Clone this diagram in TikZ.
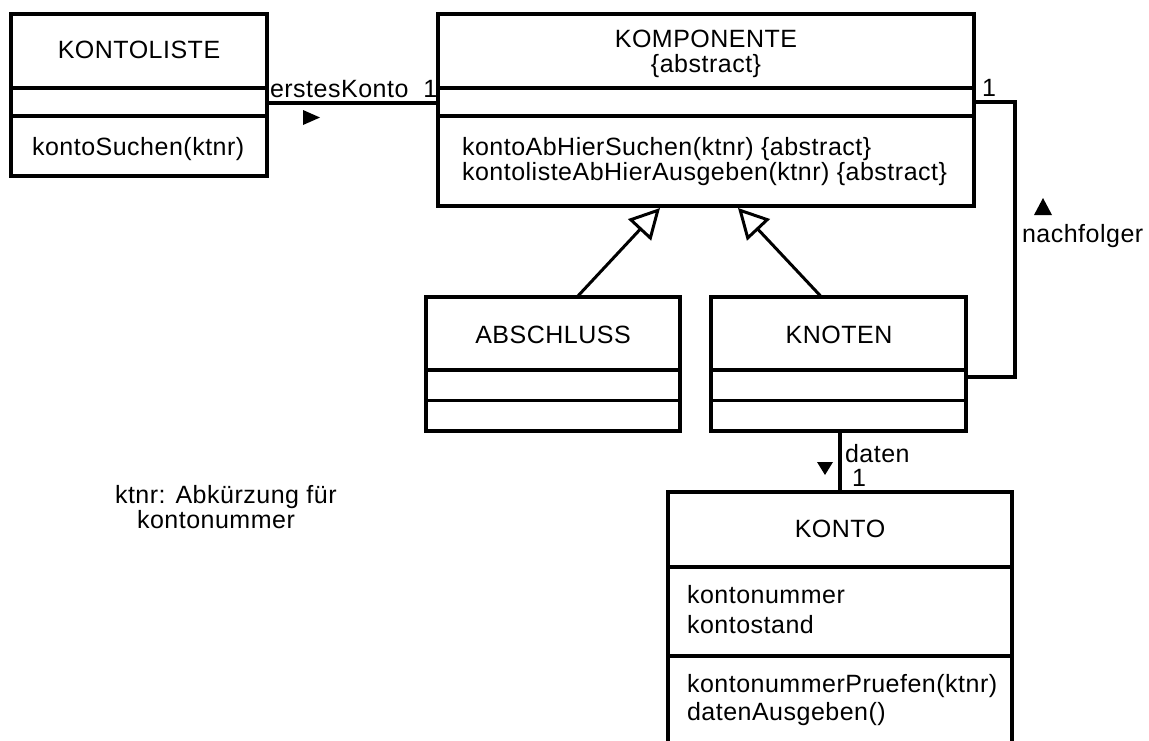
\documentclass[tikz,border=0pt]{standalone}
\usepackage{fontspec}
\newfontfamily\classfont[LetterSpace=2]{Liberation Sans}
\usetikzlibrary{arrows.meta,calc}
\tikzset{
  box/.style={draw, line width=4pt, inner sep=0pt, outer sep=0pt, anchor=north west},
  divider/.style={line width=4pt},
  txt/.style={font=\classfont\fontsize{25}{28}\selectfont, inner sep=0pt, outer sep=0pt},
  assoc/.style={line width=4pt},
  gen/.style={line width=3pt, -{Triangle[open, length=30pt, width=31pt]}},
  marker/.style={fill=black}
}
\begin{document}
\begin{tikzpicture}[x=1pt,y=-1pt]
\useasboundingbox (0,0) rectangle (1149,740);
\clip (0,0) rectangle (1149,740);
\fill[white] (0,0) rectangle (1149,740);

% class boxes
\node[box, minimum width=256pt, minimum height=162pt] (kl) at (11,14) {};
\node[box, minimum width=536pt, minimum height=192pt] (kp) at (438,14) {};
\node[box, minimum width=254pt, minimum height=134pt] (ab) at (426,297) {};
\node[box, minimum width=255pt, minimum height=134pt] (kn) at (711,297) {};
\node[box, minimum width=344pt, minimum height=280pt] (ko) at (668,492) {};

% dividers
\draw[divider] ($(kl.north west)+(0,74)$) -- ($(kl.north east)+(0,74)$);
\draw[divider] ($(kl.north west)+(0,102)$) -- ($(kl.north east)+(0,102)$);
\draw[divider] ($(kp.north west)+(0,74)$) -- ($(kp.north east)+(0,74)$);
\draw[divider] ($(kp.north west)+(0,102)$) -- ($(kp.north east)+(0,102)$);
\draw[divider] ($(ab.north west)+(0,73)$) -- ($(ab.north east)+(0,73)$);
\draw[line width=3pt] ($(ab.north west)+(0,103)$) -- ($(ab.north east)+(0,103)$);
\draw[divider] ($(kn.north west)+(0,73)$) -- ($(kn.north east)+(0,73)$);
\draw[line width=3pt] ($(kn.north west)+(0,103)$) -- ($(kn.north east)+(0,103)$);
\draw[divider] ($(ko.north west)+(0,75)$) -- ($(ko.north east)+(0,75)$);
\draw[divider] ($(ko.north west)+(0,164)$) -- ($(ko.north east)+(0,164)$);

% class texts
\node[txt, anchor=base] (tkl) at (139,58) {KONTOLISTE};
\node[txt, anchor=base west] (mkl) at (32,155) {kontoSuchen(ktnr)};
\node[txt, anchor=base] (tkp) at (706,47) {KOMPONENTE};
\node[txt, anchor=base] (tkp2) at (706,72) {\{abstract\}};
\node[txt, anchor=base west] (mkp1) at (462,155) {kontoAbHierSuchen(ktnr) \{abstract\}};
\node[txt, anchor=base west] (mkp2) at (462,180) {kontolisteAbHierAusgeben(ktnr) \{abstract\}};
\node[txt, anchor=base] (tab) at (553,343) {ABSCHLUSS};
\node[txt, anchor=base] (tkn) at (839,343) {KNOTEN};
\node[txt, anchor=base] (tko) at (840,537) {KONTO};
\node[txt, anchor=base west] (ako1) at (687,603) {kontonummer};
\node[txt, anchor=base west] (ako2) at (687,633) {kontostand};
\node[txt, anchor=base west] (mko1) at (687,692) {kontonummerPruefen(ktnr)};
\node[txt, anchor=base west] (mko2) at (687,720) {datenAusgeben()};

% note
\node[txt, anchor=base west] (n1) at (115,503) {ktnr: Abkürzung für};
\node[txt, anchor=base west] (n2) at (137,528) {kontonummer};

% association erstesKonto
\draw[assoc] ($(kl.north east)+(0,89)$) -- ($(kp.north west)+(0,89)$);
\node[txt, anchor=base west] (l1) at (270,97) {erstesKonto\ \ 1};
\fill[marker] (303,110) -- (320,117.5) -- (303,125) -- cycle;

% association nachfolger
\draw[assoc] ($(kp.north east)+(0,88)$) -- ++(41,0) |- ($(kn.north east)+(0,80)$);
\node[txt, anchor=base west] (l2) at (982,96) {1};
\fill[marker] (1034,215) -- (1043,198) -- (1052,215) -- cycle;
\node[txt, anchor=base west] (l3) at (1022,242) {nachfolger};

% association daten
\coordinate (dtop) at ($(kn.south)+(1,0)$);
\draw[assoc] (dtop) -- (dtop |- ko.north);
\node[txt, anchor=base west] (l4) at (845,462) {daten};
\node[txt, anchor=base west] (l5) at (852,486) {1};
\fill[marker] (817,462) -- (833,462) -- (825,475) -- cycle;

% generalizations
\draw[gen] ($(ab.north)+(24,0)$) -- ($(kp.south)+(-46,2)$);
\draw[gen] ($(kn.north)+(-17,0)$) -- ($(kp.south)+(32,2)$);
\end{tikzpicture}
\end{document}
